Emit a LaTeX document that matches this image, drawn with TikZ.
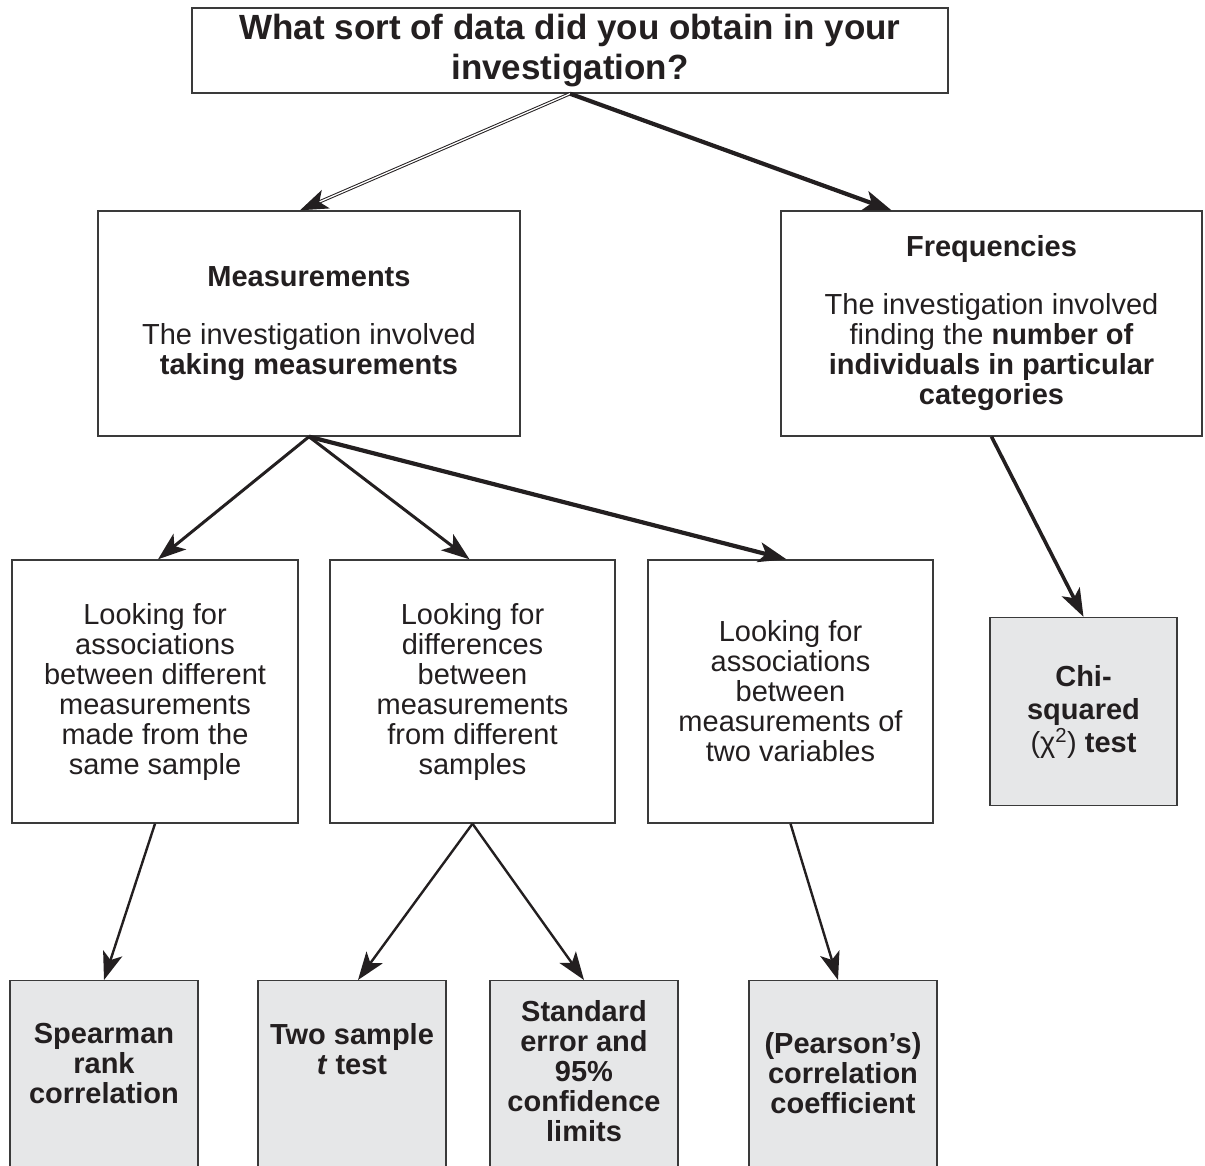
\documentclass[tikz,border=0pt]{standalone}
\usepackage{fontspec}
\setmainfont{Liberation Sans}
\usetikzlibrary{arrows.meta,positioning}
\definecolor{boxline}{HTML}{3A3A3A}
\definecolor{testgrey}{HTML}{E6E7E8}
\definecolor{ink}{HTML}{231F20}
\tikzset{
  qbox/.style={draw=boxline, line width=1.4pt, fill=white, inner sep=0pt, align=center, text=ink,
    font=\fontsize{29}{30}\selectfont},
  testbox/.style={qbox, fill=testgrey, anchor=north},
  testtext/.style={align=center, text=ink, font=\fontsize{29}{30}\selectfont\bfseries},
  link/.style={->, draw=ink, line width=2.4pt},
  biglink/.style={->, draw=ink, line width=4.2pt},
}
\begin{document}
\begin{tikzpicture}[x=1pt, y=-1pt, >={Stealth[length=28pt,width=20pt,inset=7pt]}]
\useasboundingbox (0,0) rectangle (1205,1165);
% question
\node[qbox, minimum width=756, minimum height=85, font=\fontsize{35}{40}\selectfont\bfseries]
  (title) at (570,50.5) {What sort of data did you obtain in your\\investigation?};
% type of data
\node[qbox, minimum width=422, minimum height=225] (meas) at (309,323.5)
  {\textbf{Measurements}\\[28pt]The investigation involved\\\textbf{taking measurements}};
\node[qbox, minimum width=421, minimum height=225] (freq) at (991.5,323.5)
  {\textbf{Frequencies}\\[28pt]The investigation involved\\finding the \textbf{number of}\\\textbf{individuals in particular}\\\textbf{categories}};
% what is being looked for
\node[qbox, minimum width=286, minimum height=263] (assoc) at (155,691.5)
  {Looking for\\associations\\between different\\measurements\\made from the\\same sample};
\node[qbox, minimum width=285, minimum height=263] (diff) at (472.5,691.5)
  {Looking for\\differences\\between\\measurements\\from different\\samples};
\node[qbox, minimum width=285, minimum height=263] (vars) at (790.5,691.5)
  {Looking for\\associations\\between\\measurements of\\two variables};
% tests
\node[qbox, fill=testgrey, minimum width=187, minimum height=188, font=\fontsize{29}{33}\selectfont\bfseries]
  (chi) at (1083.5,711.5) {Chi-\\squared\\{\mdseries(χ\textsuperscript{2})} test};
\node[testbox, minimum width=188, minimum height=260] (spear) at (104,980) {};
\node[testbox, minimum width=188, minimum height=260] (two) at (352,980) {};
\node[testbox, minimum width=188, minimum height=260] (std) at (584,980) {};
\node[testbox, minimum width=188, minimum height=260] (pear) at (843,980) {};
\node[testtext] (spearT) at (104,1064) {Spearman\\rank\\correlation};
\node[testtext] (twoT) at (352,1049) {Two sample\\\textit{t} test};
\node[testtext] (stdT) at (584,1071) {Standard\\error and\\95\%\\confidence\\limits};
\node[testtext] (pearT) at (843,1073) {(Pearson’s)\\correlation\\coefficient};
% arrows
\draw[->, draw=ink, line width=1pt, double=white, double distance=1.3pt] (title.south) -- ([xshift=-9pt]meas.north);
\draw[biglink] (title.south) -- ([xshift=-100pt]freq.north);
\draw[link, line width=3pt] (meas.south) -- ([xshift=3pt]assoc.north);
\draw[link, line width=3pt] (meas.south) -- ([xshift=-3pt]diff.north);
\draw[biglink] (meas.south) -- ([xshift=-4pt]vars.north);
\draw[biglink, line width=3.6pt] (freq.south) -- (chi.north);
\draw[link] (assoc.south) -- (spear.north);
\draw[link] (diff.south) -- ([xshift=6pt]two.north);
\draw[link] (diff.south) -- (std.north);
\draw[link] (vars.south) -- ([xshift=-5pt]pear.north);
\end{tikzpicture}
\end{document}
